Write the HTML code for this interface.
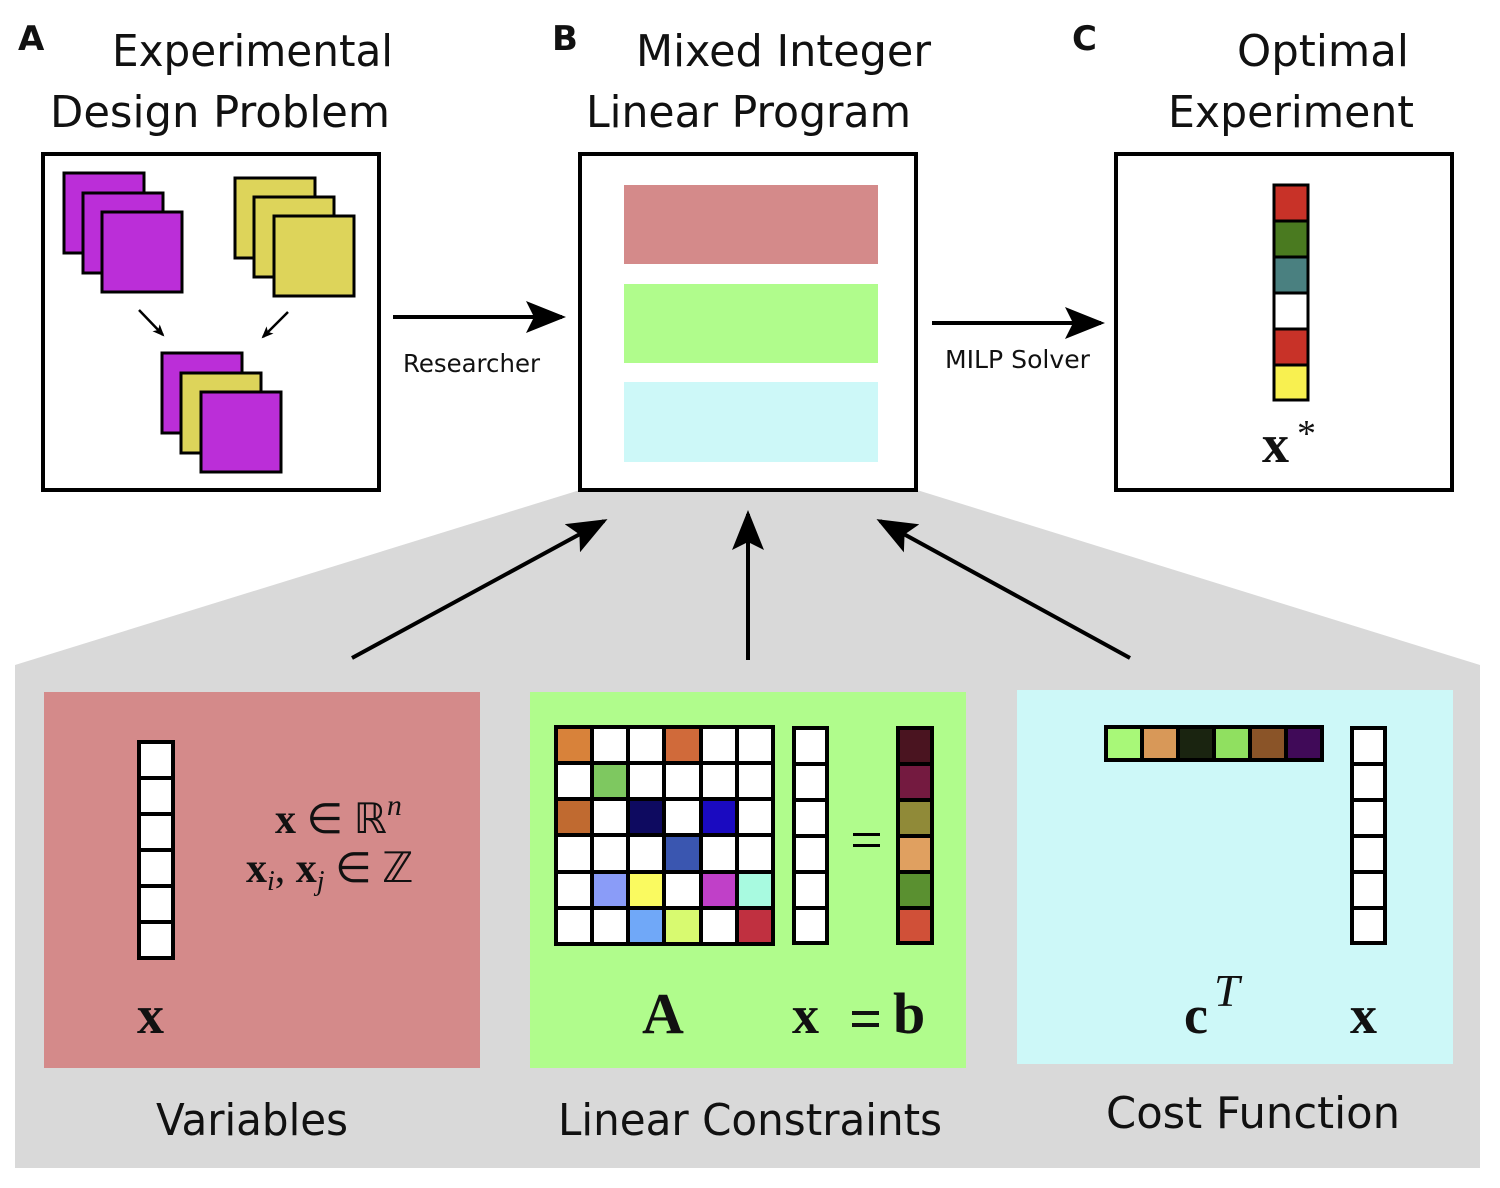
<!DOCTYPE html>
<html><head><meta charset="utf-8"><style>
html,body{margin:0;padding:0;background:#fff;}
svg{display:block;}
.t{font-family:"DejaVu Sans","Liberation Sans",sans-serif;fill:#111;}
.m{font-family:"Liberation Serif",serif;font-weight:bold;fill:#111;}
.mi{font-family:"Liberation Serif",serif;font-style:italic;fill:#111;}
</style></head><body>
<svg width="1500" height="1188" viewBox="0 0 1500 1188" xmlns="http://www.w3.org/2000/svg">
<defs><marker id="ah" markerWidth="12" markerHeight="10" refX="10" refY="5" orient="auto" markerUnits="userSpaceOnUse" viewBox="0 0 12 10"><path d="M0,0 L12,5 L0,10 L3,5Z" fill="#000"/></marker>
<marker id="ah2" markerWidth="40" markerHeight="32" refX="36" refY="16" orient="auto" markerUnits="userSpaceOnUse"><path d="M0,0 L40,16 L0,32 L8,16Z" fill="#000"/></marker></defs>

<polygon points="580,490 917,490 1480,665 1480,1168 15,1168 15,665" fill="#d9d9d9"/>

<text class="t" x="18" y="50" font-size="34" font-weight="bold" font-family="Liberation Sans">A</text>
<text class="t" x="112" y="66" font-size="44" textLength="281" lengthAdjust="spacingAndGlyphs">Experimental</text>
<text class="t" x="50" y="127" font-size="44" textLength="340" lengthAdjust="spacingAndGlyphs">Design Problem</text>
<text class="t" x="552" y="50" font-size="34" font-weight="bold" font-family="Liberation Sans">B</text>
<text class="t" x="636" y="66" font-size="44" textLength="295" lengthAdjust="spacingAndGlyphs">Mixed Integer</text>
<text class="t" x="586" y="127" font-size="44" textLength="325" lengthAdjust="spacingAndGlyphs">Linear Program</text>
<text class="t" x="1072" y="50" font-size="34" font-weight="bold" font-family="Liberation Sans">C</text>
<text class="t" x="1237" y="66" font-size="44" textLength="172" lengthAdjust="spacingAndGlyphs">Optimal</text>
<text class="t" x="1168" y="127" font-size="44" textLength="246" lengthAdjust="spacingAndGlyphs">Experiment</text>

<rect x="43" y="154" width="336" height="336" fill="#fff" stroke="#000" stroke-width="4"/>
<g stroke="#000" stroke-width="3">
<rect x="64" y="173" width="80" height="80" fill="#bb2ed8"/>
<rect x="83" y="193" width="80" height="80" fill="#bb2ed8"/>
<rect x="102" y="212" width="80" height="80" fill="#bb2ed8"/>
<rect x="235" y="178" width="80" height="80" fill="#ddd45a"/>
<rect x="254" y="197" width="80" height="80" fill="#ddd45a"/>
<rect x="274" y="216" width="80" height="80" fill="#ddd45a"/>
<rect x="162" y="353" width="80" height="80" fill="#bb2ed8"/>
<rect x="181" y="373" width="80" height="80" fill="#ddd45a"/>
<rect x="201" y="392" width="80" height="80" fill="#bb2ed8"/>
</g>
<line x1="139" y1="310" x2="163" y2="335" stroke="#000" stroke-width="2.5" marker-end="url(#ah)"/>
<line x1="288" y1="312" x2="263" y2="337" stroke="#000" stroke-width="2.5" marker-end="url(#ah)"/>

<rect x="580" y="154" width="336" height="336" fill="#fff" stroke="#000" stroke-width="4"/>
<rect x="624" y="185" width="254" height="79" fill="#d48a8a"/>
<rect x="624" y="284" width="254" height="79" fill="#b0fc8c"/>
<rect x="624" y="382" width="254" height="80" fill="#cdf8f8"/>

<rect x="1116" y="154" width="336" height="336" fill="#fff" stroke="#000" stroke-width="4"/>
<g stroke="#000" stroke-width="3">
<rect x="1274" y="185" width="34" height="36" fill="#c83228"/>
<rect x="1274" y="221" width="34" height="36" fill="#4a7a20"/>
<rect x="1274" y="257" width="34" height="36" fill="#4a8080"/>
<rect x="1274" y="293" width="34" height="36" fill="#fff"/>
<rect x="1274" y="329" width="34" height="36" fill="#c83228"/>
<rect x="1274" y="365" width="34" height="35" fill="#f8f050"/>
</g>
<text class="m" x="1262" y="462" font-size="54">x</text>
<text x="1297" y="446" font-size="38" font-family="Liberation Serif" fill="#111">*</text>

<line x1="393" y1="317" x2="562" y2="317" stroke="#000" stroke-width="4" marker-end="url(#ah2)"/>
<text class="t" x="403" y="372" font-size="25" textLength="137" lengthAdjust="spacingAndGlyphs">Researcher</text>
<line x1="932" y1="323" x2="1101" y2="323" stroke="#000" stroke-width="4" marker-end="url(#ah2)"/>
<text class="t" x="945" y="368" font-size="25" textLength="145" lengthAdjust="spacingAndGlyphs">MILP Solver</text>

<line x1="352" y1="658" x2="604" y2="521" stroke="#000" stroke-width="4" marker-end="url(#ah2)"/>
<line x1="748" y1="660" x2="748" y2="514" stroke="#000" stroke-width="4" marker-end="url(#ah2)"/>
<line x1="1130" y1="658" x2="880" y2="521" stroke="#000" stroke-width="4" marker-end="url(#ah2)"/>

<rect x="44" y="692" width="436" height="376" fill="#d48a8a"/>
<rect x="530" y="692" width="436" height="376" fill="#b0fc8c"/>
<rect x="1017" y="690" width="436" height="374" fill="#cdf8f8"/>

<g stroke="#000" stroke-width="4" fill="#fff">
<rect x="139" y="742" width="34" height="36"/>
<rect x="139" y="778" width="34" height="36"/>
<rect x="139" y="814" width="34" height="36"/>
<rect x="139" y="850" width="34" height="36"/>
<rect x="139" y="886" width="34" height="36"/>
<rect x="139" y="922" width="34" height="36"/>
</g>
<text class="m" x="137" y="1033" font-size="54">x</text>
<text x="275" y="833" font-size="42" font-family="Liberation Serif" fill="#111"><tspan font-weight="bold">x</tspan> ∈ ℝ<tspan font-style="italic" font-size="30" dy="-18">n</tspan></text>
<text x="246" y="882" font-size="42" font-family="Liberation Serif" fill="#111"><tspan font-weight="bold">x</tspan><tspan font-style="italic" font-size="28" dy="8">i</tspan><tspan dy="-8">, </tspan><tspan font-weight="bold">x</tspan><tspan font-style="italic" font-size="28" dy="8">j</tspan><tspan dy="-8"> ∈ ℤ</tspan></text>
<text class="t" x="156" y="1135" font-size="44" textLength="192" lengthAdjust="spacingAndGlyphs">Variables</text>

<g stroke="#000" stroke-width="4">
<rect x="556" y="727" width="36" height="36" fill="#d8823a"/><rect x="592" y="727" width="36" height="36" fill="#fff"/><rect x="628" y="727" width="36" height="36" fill="#fff"/><rect x="664" y="727" width="37" height="36" fill="#d06a3a"/><rect x="701" y="727" width="36" height="36" fill="#fff"/><rect x="737" y="727" width="36" height="36" fill="#fff"/>
<rect x="556" y="763" width="36" height="36" fill="#fff"/><rect x="592" y="763" width="36" height="36" fill="#7ec860"/><rect x="628" y="763" width="36" height="36" fill="#fff"/><rect x="664" y="763" width="37" height="36" fill="#fff"/><rect x="701" y="763" width="36" height="36" fill="#fff"/><rect x="737" y="763" width="36" height="36" fill="#fff"/>
<rect x="556" y="799" width="36" height="36" fill="#c06a30"/><rect x="592" y="799" width="36" height="36" fill="#fff"/><rect x="628" y="799" width="36" height="36" fill="#0e0a60"/><rect x="664" y="799" width="37" height="36" fill="#fff"/><rect x="701" y="799" width="36" height="36" fill="#1a0ac0"/><rect x="737" y="799" width="36" height="36" fill="#fff"/>
<rect x="556" y="835" width="36" height="37" fill="#fff"/><rect x="592" y="835" width="36" height="37" fill="#fff"/><rect x="628" y="835" width="36" height="37" fill="#fff"/><rect x="664" y="835" width="37" height="37" fill="#3a56b0"/><rect x="701" y="835" width="36" height="37" fill="#fff"/><rect x="737" y="835" width="36" height="37" fill="#fff"/>
<rect x="556" y="872" width="36" height="36" fill="#fff"/><rect x="592" y="872" width="36" height="36" fill="#8a9cf8"/><rect x="628" y="872" width="36" height="36" fill="#fafa60"/><rect x="664" y="872" width="37" height="36" fill="#fff"/><rect x="701" y="872" width="36" height="36" fill="#c040c8"/><rect x="737" y="872" width="36" height="36" fill="#a8fae0"/>
<rect x="556" y="908" width="36" height="36" fill="#fff"/><rect x="592" y="908" width="36" height="36" fill="#fff"/><rect x="628" y="908" width="36" height="36" fill="#70a8f8"/><rect x="664" y="908" width="37" height="36" fill="#d8fa70"/><rect x="701" y="908" width="36" height="36" fill="#fff"/><rect x="737" y="908" width="36" height="36" fill="#c03040"/>
<rect x="794" y="728" width="33" height="36" fill="#fff"/><rect x="794" y="764" width="33" height="36" fill="#fff"/><rect x="794" y="800" width="33" height="36" fill="#fff"/><rect x="794" y="836" width="33" height="36" fill="#fff"/><rect x="794" y="872" width="33" height="36" fill="#fff"/><rect x="794" y="908" width="33" height="35" fill="#fff"/>
<rect x="898" y="728" width="34" height="36" fill="#4a1420"/><rect x="898" y="764" width="34" height="36" fill="#741a40"/><rect x="898" y="800" width="34" height="36" fill="#908a38"/><rect x="898" y="836" width="34" height="36" fill="#e0a060"/><rect x="898" y="872" width="34" height="36" fill="#5a9030"/><rect x="898" y="908" width="34" height="35" fill="#d05038"/>
</g>
<rect x="853" y="833" width="27" height="3" fill="#000"/><rect x="853" y="844" width="27" height="3" fill="#000"/>
<text class="m" x="642" y="1033" font-size="58">A</text>
<text class="m" x="792" y="1033" font-size="54">x</text>
<rect x="852" y="1011" width="27" height="4" fill="#111"/><rect x="852" y="1023" width="27" height="4" fill="#111"/>
<text class="m" x="893" y="1033" font-size="58">b</text>
<text class="t" x="558" y="1135" font-size="44" textLength="384" lengthAdjust="spacingAndGlyphs">Linear Constraints</text>

<g stroke="#000" stroke-width="4">
<rect x="1106" y="727" width="36" height="33" fill="#a8f878"/><rect x="1142" y="727" width="36" height="33" fill="#d89858"/><rect x="1178" y="727" width="36" height="33" fill="#1a2410"/><rect x="1214" y="727" width="36" height="33" fill="#90e060"/><rect x="1250" y="727" width="36" height="33" fill="#8a5428"/><rect x="1286" y="727" width="36" height="33" fill="#400a58"/>
<rect x="1352" y="728" width="33" height="36" fill="#fff"/><rect x="1352" y="764" width="33" height="36" fill="#fff"/><rect x="1352" y="800" width="33" height="36" fill="#fff"/><rect x="1352" y="836" width="33" height="36" fill="#fff"/><rect x="1352" y="872" width="33" height="36" fill="#fff"/><rect x="1352" y="908" width="33" height="35" fill="#fff"/>
</g>
<text class="m" x="1184" y="1033" font-size="54">c</text>
<text class="mi" x="1214" y="1006" font-size="46">T</text>
<text class="m" x="1350" y="1033" font-size="54">x</text>
<text class="t" x="1106" y="1128" font-size="44" textLength="294" lengthAdjust="spacingAndGlyphs">Cost Function</text>
</svg>
</body></html>
